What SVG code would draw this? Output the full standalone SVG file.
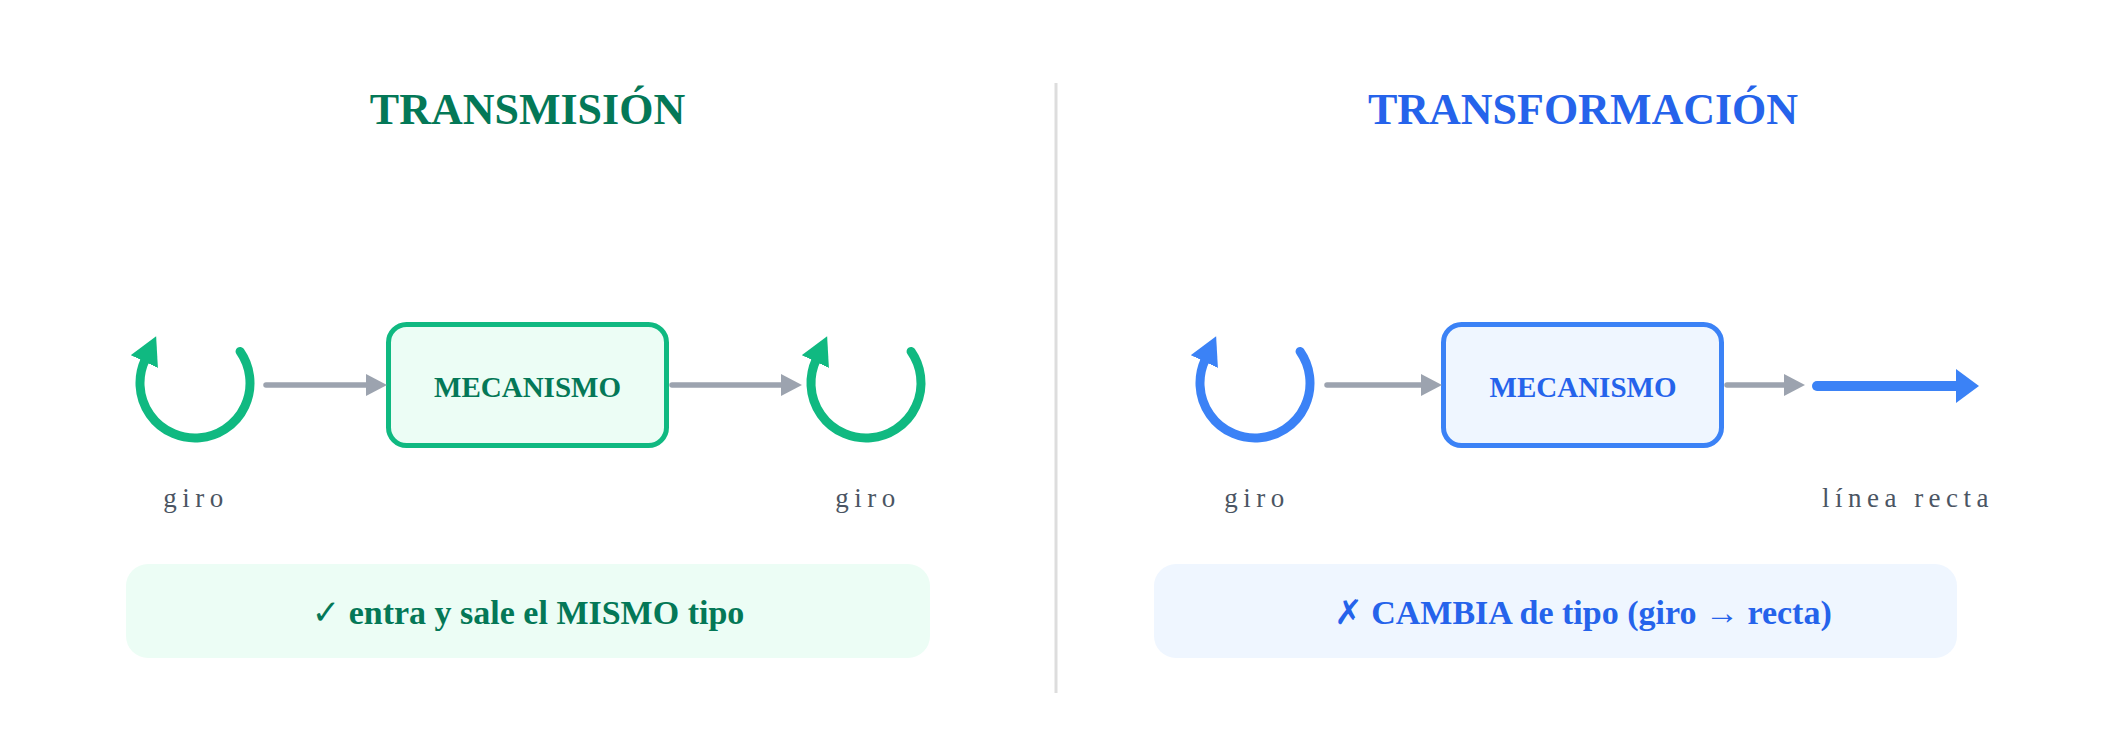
<svg xmlns="http://www.w3.org/2000/svg" width="2111" height="736" viewBox="0 0 2111 736">
<style>
.title{font-family:"Liberation Serif","Times New Roman",serif;font-weight:bold;font-size:44px;text-anchor:middle}
.mech{font-family:"Liberation Serif","Times New Roman",serif;font-weight:bold;font-size:29px;text-anchor:middle}
.lbl{font-family:"Liberation Serif","Times New Roman",serif;font-size:27px;letter-spacing:5.5px;fill:#4b5563;text-anchor:middle}
.note{font-family:"Liberation Serif","Times New Roman","DejaVu Sans",serif;font-weight:bold;font-size:34px;text-anchor:middle}
.g{fill:#047857}
.b{fill:#2563eb}
.conn{stroke:#9ca3af;stroke-width:5.5;stroke-linecap:round;fill:none}
.rotG{stroke:#10b981;stroke-width:9;fill:none;stroke-linecap:round}
.rotB{stroke:#3b82f6;stroke-width:9;fill:none;stroke-linecap:round}
</style>
<defs>
<marker id="ah" markerUnits="userSpaceOnUse" markerWidth="24" markerHeight="24" refX="1" refY="11" orient="auto"><path d="M0,0 L21,11 L0,22 z" fill="#9ca3af"/></marker>
<marker id="mG" markerUnits="userSpaceOnUse" markerWidth="32" markerHeight="32" refX="2" refY="15" orient="auto"><path d="M0,0 L28,15 L0,30 z" fill="#10b981"/></marker>
<marker id="mB" markerUnits="userSpaceOnUse" markerWidth="32" markerHeight="32" refX="2" refY="15" orient="auto"><path d="M0,0 L28,15 L0,30 z" fill="#3b82f6"/></marker>
<marker id="mLine" markerUnits="userSpaceOnUse" markerWidth="26" markerHeight="36" refX="0" refY="17" orient="auto"><path d="M0,0 L23,17 L0,34 z" fill="#3b82f6"/></marker>
</defs>
<rect width="2111" height="736" fill="#ffffff"/>
<line x1="1056" y1="83" x2="1056" y2="693" stroke="#dddddd" stroke-width="3"/>
<text class="title g" x="527.5" y="124">TRANSMISIÓN</text>
<text class="title b" x="1583" y="124">TRANSFORMACIÓN</text>

<g id="giro-in-left">
<path class="rotG" d="M240.05,351.45 A55,55 0 1 1 145.15,359.76" marker-end="url(#mG)"/>
<text class="lbl" x="196" y="507">giro</text>
</g>
<g id="mecanismo-left">
<rect x="388.5" y="324.5" width="278" height="121" rx="18" fill="#ecfdf5" stroke="#10b981" stroke-width="5"/>
<text class="mech g" x="527.5" y="397">MECANISMO</text>
</g>
<g id="giro-out-left">
<path class="rotG" d="M911.05,351.45 A55,55 0 1 1 816.15,359.76" marker-end="url(#mG)"/>
<text class="lbl" x="868" y="507">giro</text>
</g>
<g id="note-left">
<rect x="126" y="564" width="804" height="94" rx="22" fill="#ecfdf5"/>
<text class="note g" x="528" y="624">✓ entra y sale el MISMO tipo</text>
</g>

<g id="giro-in-right">
<path class="rotB" d="M1300.05,351.45 A55,55 0 1 1 1205.15,359.76" marker-end="url(#mB)"/>
<text class="lbl" x="1257" y="507">giro</text>
</g>
<g id="mecanismo-right">
<rect x="1443.5" y="324.5" width="278" height="121" rx="18" fill="#eff6ff" stroke="#3b82f6" stroke-width="5"/>
<text class="mech b" x="1583" y="397">MECANISMO</text>
</g>
<g id="linea-recta">
<line x1="1817" y1="386" x2="1956" y2="386" stroke="#3b82f6" stroke-width="10" stroke-linecap="round" marker-end="url(#mLine)"/>
<text class="lbl" x="1908" y="507">línea recta</text>
</g>
<g id="note-right">
<rect x="1154" y="564" width="803" height="94" rx="22" fill="#eff6ff"/>
<text class="note b" x="1583" y="624">✗ CAMBIA de tipo (giro → recta)</text>
</g>

<g id="connectors">
<line class="conn" x1="266" y1="385" x2="367" y2="385" marker-end="url(#ah)"/>
<line class="conn" x1="672" y1="385" x2="782" y2="385" marker-end="url(#ah)"/>
<line class="conn" x1="1327" y1="385" x2="1422" y2="385" marker-end="url(#ah)"/>
<line class="conn" x1="1727" y1="385" x2="1785" y2="385" marker-end="url(#ah)"/>
</g>
</svg>
